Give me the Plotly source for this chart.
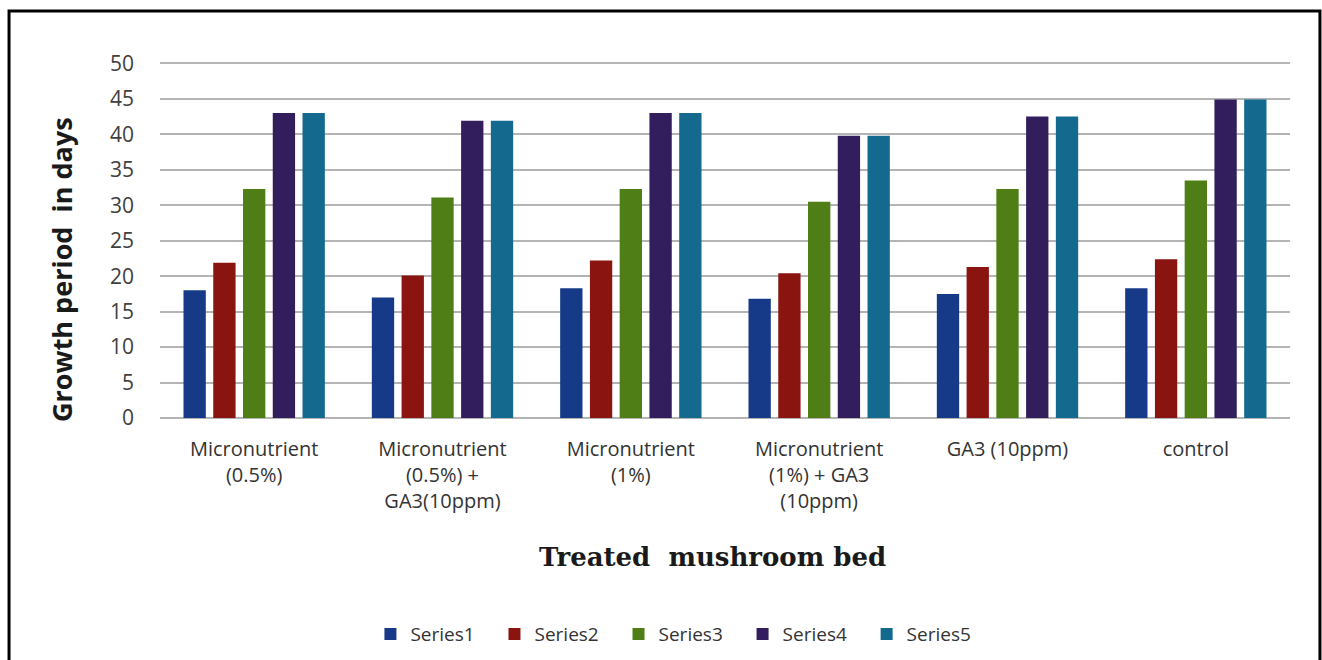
import plotly.graph_objects as go

categories = [
    "Micronutrient<br>(0.5%)",
    "Micronutrient<br>(0.5%) +<br>GA3(10ppm)",
    "Micronutrient<br>(1%)",
    "Micronutrient<br>(1%) + GA3<br>(10ppm)",
    "GA3 (10ppm)",
    "control",
]
series_names = ["Series1", "Series2", "Series3", "Series4", "Series5"]
series1 = [18.0, 17.0, 18.3, 16.8, 17.5, 18.3]
series2 = [21.9, 20.1, 22.2, 20.4, 21.3, 22.4]
series3 = [32.3, 31.1, 32.3, 30.5, 32.3, 33.5]
series4 = [43.0, 41.9, 43.0, 39.8, 42.5, 44.9]
series5 = [43.0, 41.9, 43.0, 39.8, 42.5, 44.9]
colors = ["#173A88", "#8A1510", "#4E7E15", "#321E5C", "#14698F"]
y_ticks = [0, 5, 10, 15, 20, 25, 30, 35, 40, 45, 50]

all_series = [series1, series2, series3, series4, series5]

fig = go.Figure()
for name, vals, col in zip(series_names, all_series, colors):
    fig.add_trace(go.Bar(x=categories, y=vals, name=name + "\u00a0\u00a0\u00a0",
                         marker_color=col, marker_line_width=0))

fig.update_layout(
    width=1322, height=660,
    paper_bgcolor="white", plot_bgcolor="white",
    margin=dict(l=160, r=32, t=62, b=242, autoexpand=False),
    barmode="group", bargap=0.21, bargroupgap=0.25,
    font=dict(family="Open Sans", color="#333333"),
    legend=dict(orientation="h", x=0.461, xanchor="center", y=-0.607, yanchor="middle",
                font=dict(size=19, color="#333333"), itemwidth=30, traceorder="normal"),
    showlegend=True,
)
fig.update_xaxes(
    tickfont=dict(size=20, color="#333333"),
    ticklabelstandoff=17,
    showline=False,
    automargin=False,
)
fig.update_yaxes(
    range=[0, 50.2], tickvals=y_ticks,
    tickfont=dict(size=21, color="#404040"),
    ticklabelstandoff=25,
    showgrid=True, gridcolor="#B4B4B4", gridwidth=2,
    zeroline=True, zerolinecolor="#B4B4B4", zerolinewidth=2,
    automargin=False,
)
fig.add_annotation(
    text="Growth period\u00a0\u00a0in days", xref="paper", yref="paper",
    x=(61 - 160) / 1130, y=(418 - 270) / 356, xanchor="center", yanchor="middle",
    textangle=-90, showarrow=False,
    font=dict(family="Open Sans", size=27, color="#1a1a1a", weight="bold"),
)
fig.add_annotation(
    text="Treated\u00a0\u00a0mushroom\u00a0bed", xref="paper", yref="paper",
    x=(712 - 160) / 1130, y=-0.39, xanchor="center", yanchor="middle", showarrow=False,
    font=dict(family="DejaVu Serif", size=26, color="#1a1a1a", weight="bold"),
)
fig.add_shape(type="rect", xref="paper", yref="paper",
              x0=-0.1336, x1=1.0265, y0=-0.694, y1=1.143,
              line=dict(color="black", width=3), fillcolor="rgba(0,0,0,0)", layer="above")

fig.write_html("out.html", config={"displayModeBar": False},
               post_script="document.body.style.margin='0';document.body.style.overflow='hidden';")
